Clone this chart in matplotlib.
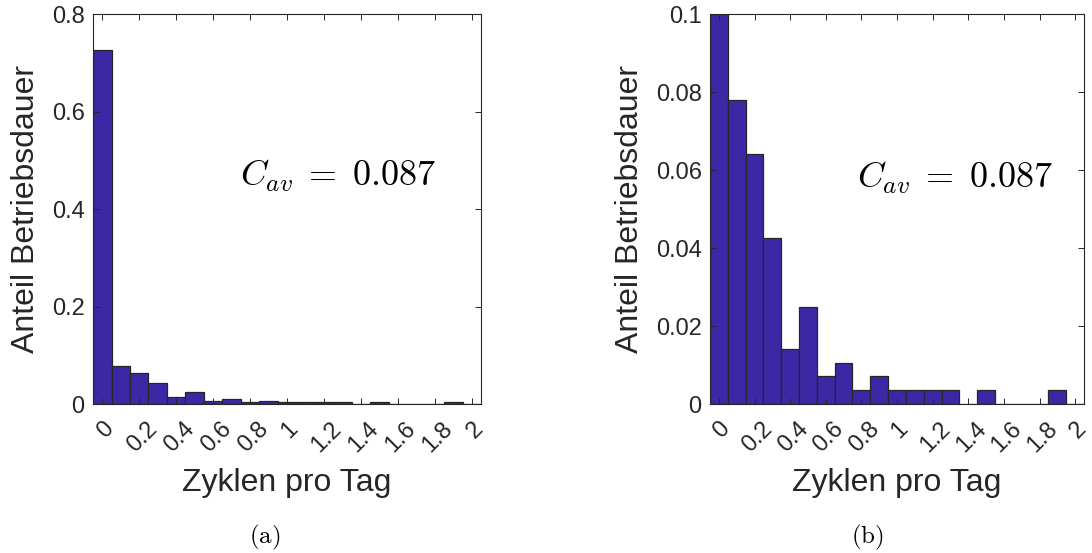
import numpy as np
import matplotlib
matplotlib.use('Agg')
import matplotlib.pyplot as plt
import matplotlib.transforms as mtransforms

# Data (histogram, bin centres 0..2 step 0.1)
bin_centers = np.round(np.arange(0, 2.01, 0.1), 1)
share = [0.727, 0.078, 0.064, 0.0426, 0.0142, 0.0248, 0.0071, 0.0106,
         0.0035, 0.0071, 0.0035, 0.0035, 0.0035, 0.0035, 0.0, 0.0035,
         0.0, 0.0, 0.0, 0.0035, 0.0]
xticks = [0, 0.2, 0.4, 0.6, 0.8, 1.0, 1.2, 1.4, 1.6, 1.8, 2.0]
xtick_labels = ['0', '0.2', '0.4', '0.6', '0.8', '1', '1.2', '1.4', '1.6',
                '1.8', '2']
yticks_a = [0, 0.2, 0.4, 0.6, 0.8]
ytick_labels_a = ['0', '0.2', '0.4', '0.6', '0.8']
yticks_b = [0, 0.02, 0.04, 0.06, 0.08, 0.1]
ytick_labels_b = ['0', '0.02', '0.04', '0.06', '0.08', '0.1']
c_av = 0.087

# Styles
bar_color = '#3C28A5'
edge_color = '#262626'
text_color = '#262626'

plt.rcParams['font.family'] = ['Liberation Sans', 'DejaVu Sans']
plt.rcParams['mathtext.fontset'] = 'cm'

fig = plt.figure(figsize=(10.92, 5.53), dpi=100)
ax_a = fig.add_axes([0.0852, 0.2694, 0.3553, 0.7052])
ax_b = fig.add_axes([0.6502, 0.2694, 0.3425, 0.7052])


def draw_panel(ax, ylim, yticks, ylabels, text_pos):
    ax.bar(bin_centers, share, width=0.1, color=bar_color,
           edgecolor=edge_color, linewidth=0.9, align='center')
    ax.set_xlim(-0.05, 2.05)
    ax.set_ylim(*ylim)
    ax.set_xticks(xticks)
    ax.set_xticklabels(xtick_labels, rotation=45, ha='center', va='top')
    ax.set_yticks(yticks)
    ax.set_yticklabels(ylabels)
    ax.tick_params(axis='both', direction='in', length=4, width=0.7,
                   colors=text_color, labelsize=17, top=True, right=True)
    ax.tick_params(axis='x', pad=10)
    ax.tick_params(axis='y', pad=6)
    # MATLAB puts short rotated labels a bit right of the tick
    shift = mtransforms.ScaledTranslation(3 / 100, 0, fig.dpi_scale_trans)
    for lbl in ax.get_xticklabels():
        lbl.set_transform(lbl.get_transform() + shift)
    for sp in ax.spines.values():
        sp.set_color(text_color)
        sp.set_linewidth(0.8)
    ax.set_xlabel('Zyklen pro Tag', fontsize=23, color=text_color,
                  labelpad=8)
    ax.set_ylabel('Anteil Betriebsdauer', fontsize=23, color=text_color,
                  labelpad=8)
    ax.text(text_pos[0], text_pos[1], r'$C_{av}\;=\;%.3f$' % c_av,
            transform=ax.transAxes, fontsize=26, color='black',
            ha='center', va='center')


draw_panel(ax_a, (0, 0.8), yticks_a, ytick_labels_a, (0.63, 0.585))
draw_panel(ax_b, (0, 0.1), yticks_b, ytick_labels_b, (0.655, 0.58))

fig.text(265 / 1092, 1 - 537 / 553, r'$\mathrm{(a)}$', fontsize=18,
         ha='center', va='center', color='black')
fig.text(867 / 1092, 1 - 537 / 553, r'$\mathrm{(b)}$', fontsize=18,
         ha='center', va='center', color='black')

fig.savefig('out.png', dpi=100)
